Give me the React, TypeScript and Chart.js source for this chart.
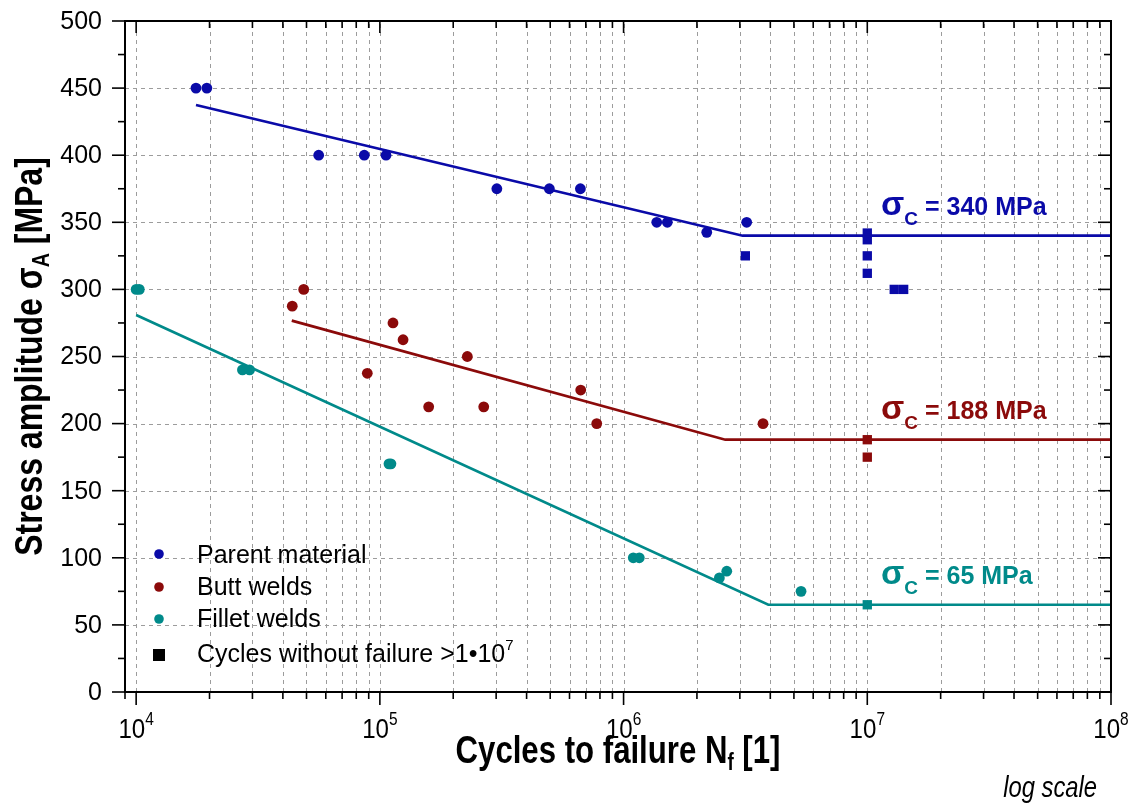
import React, { useEffect, useRef } from 'react';
import { Chart, registerables } from 'chart.js';

Chart.register(...registerables);

// ---------------- data ----------------
const parentN = [17600, 19500, 56100, 86300, 106000, 302000, 496000, 665000, 1368000, 1512000, 2194000, 3200000];
const parentS = [450, 450, 400, 400, 400, 375, 375, 375, 350, 350, 342.5, 350];
const parentRunN = [3160000, 10000000, 10000000, 10000000, 10000000, 12900000, 14100000];
const parentRunS = [325, 342, 337, 325, 312, 300, 300];
const parentFitN = [17600, 3080000, 100000000];
const parentFitS = [437.4, 340, 340];

const buttN = [43700, 48700, 88800, 113200, 124500, 158600, 228500, 266800, 667000, 776000, 3734000];
const buttS = [287.5, 300, 237.5, 275, 262.5, 212.5, 250, 212.5, 225, 200, 200];
const buttRunN = [10000000, 10000000];
const buttRunS = [188, 175];
const buttFitN = [43500, 2615000, 100000000];
const buttFitS = [276.7, 188, 188];

const filletN = [10000, 10300, 27300, 29200, 109000, 111000, 1096000, 1160000, 2472000, 2651000, 5348000];
const filletS = [300, 300, 240, 240, 170, 170, 100, 100, 85, 90, 75];
const filletRunN = [10000000];
const filletRunS = [65];
const filletFitN = [10000, 3925000, 100000000];
const filletFitS = [281, 65, 65];

const enduranceLimits = [340, 188, 65];
const enduranceLabels = ['340', '188', '65'];

const legendLabels = ['Parent material', 'Butt welds', 'Fillet welds', 'Cycles without failure >1\u202210'];

const xDecades = [1e4, 1e5, 1e6, 1e7, 1e8];
const xDecadeExps = ['4', '5', '6', '7', '8'];
const xMultipliers = [2, 3, 4, 5, 6, 7, 8, 9];
const yMajorTicks = [0, 50, 100, 150, 200, 250, 300, 350, 400, 450, 500];
const yMinorTicks = [25, 75, 125, 175, 225, 275, 325, 375, 425, 475];

const X_MIN = 9000;
const X_MAX = 1e8;

// ---------------- styles ----------------
const BLUE = '#0a0aa8';
const RED = '#8b0a0a';
const TEAL = '#008a8a';
const seriesColors = [BLUE, RED, TEAL];
const SANS = "'Liberation Sans', Arial, Helvetica, sans-serif";
const NARROW = 0.82;

type Run = { t: string; size: number; bold?: boolean; italic?: boolean; dy?: number; sx?: number };

function runFont(r: Run) {
  return `${r.italic ? 'italic ' : ''}${r.bold ? 'bold ' : ''}${r.size}px ${SANS}`;
}

function runsWidth(ctx: CanvasRenderingContext2D, runs: Run[]) {
  let w = 0;
  for (const r of runs) {
    ctx.font = runFont(r);
    w += ctx.measureText(r.t).width * (r.sx ?? 1);
  }
  return w;
}

function drawRuns(
  ctx: CanvasRenderingContext2D,
  runs: Run[],
  x: number,
  y: number,
  align: 'left' | 'center' | 'right',
  color: string
) {
  const w = runsWidth(ctx, runs);
  let cx = align === 'left' ? x : align === 'center' ? x - w / 2 : x - w;
  ctx.fillStyle = color;
  ctx.textAlign = 'left';
  ctx.textBaseline = 'alphabetic';
  for (const r of runs) {
    ctx.font = runFont(r);
    const sx = r.sx ?? 1;
    const rw = ctx.measureText(r.t).width * sx;
    ctx.save();
    ctx.translate(cx, y + (r.dy ?? 0));
    ctx.scale(sx, 1);
    ctx.fillText(r.t, 0, 0);
    ctx.restore();
    cx += rw;
  }
}

function xMinorValues() {
  const out: number[] = [X_MIN];
  for (const d of xDecades) {
    if (d >= X_MAX) continue;
    for (const m of xMultipliers) out.push(d * m);
  }
  return out;
}

function pts(xs: number[], ys: number[]) {
  return xs.map((x, i) => ({ x, y: ys[i] }));
}

const framePlugin = {
  id: 'snFrame',
  beforeDatasetsDraw(chart: any) {
    const { ctx, chartArea: a, scales } = chart;
    const xs = scales.x;
    const ys = scales.y;
    ctx.save();
    ctx.strokeStyle = '#9c9c9c';
    ctx.lineWidth = 1;
    ctx.setLineDash([4, 4]);
    const xv = [...xDecades, ...xMinorValues()];
    for (const v of xv) {
      const px = Math.round(xs.getPixelForValue(v)) + 0.5;
      if (px <= a.left + 2 || px >= a.right - 2) continue;
      ctx.beginPath();
      ctx.moveTo(px, a.bottom);
      ctx.lineTo(px, a.top);
      ctx.stroke();
    }
    for (const v of yMajorTicks) {
      const py = Math.round(ys.getPixelForValue(v)) + 0.5;
      if (py <= a.top + 2 || py >= a.bottom - 2) continue;
      ctx.beginPath();
      ctx.moveTo(a.left, py);
      ctx.lineTo(a.right, py);
      ctx.stroke();
    }
    ctx.restore();
  },
  afterDatasetsDraw(chart: any) {
    const { ctx, chartArea: a, scales } = chart;
    const xs = scales.x;
    const ys = scales.y;
    ctx.save();
    ctx.setLineDash([]);
    // frame
    ctx.strokeStyle = '#000';
    ctx.lineWidth = 2;
    ctx.strokeRect(a.left, a.top, a.right - a.left, a.bottom - a.top);

    // ticks
    ctx.lineWidth = 1.6;
    const MAJ = 13;
    const MIN = 7;
    const tick = (x1: number, y1: number, x2: number, y2: number) => {
      ctx.beginPath();
      ctx.moveTo(x1, y1);
      ctx.lineTo(x2, y2);
      ctx.stroke();
    };
    for (const v of yMajorTicks) {
      const py = ys.getPixelForValue(v);
      tick(a.left - MAJ, py, a.left, py);
      tick(a.right, py, a.right - MAJ, py);
    }
    for (const v of yMinorTicks) {
      const py = ys.getPixelForValue(v);
      tick(a.left - MIN, py, a.left, py);
      tick(a.right, py, a.right - MIN, py);
    }
    for (const v of xDecades) {
      const px = xs.getPixelForValue(v);
      tick(px, a.bottom, px, a.bottom + MAJ);
      tick(px, a.top, px, a.top + MAJ - 1);
    }
    for (const v of xMinorValues()) {
      const px = xs.getPixelForValue(v);
      tick(px, a.bottom, px, a.bottom + MIN);
      tick(px, a.top, px, a.top + MIN);
    }

    // y tick labels
    ctx.fillStyle = '#000';
    ctx.font = `25px ${SANS}`;
    ctx.textAlign = 'right';
    ctx.textBaseline = 'middle';
    for (const v of yMajorTicks) {
      ctx.fillText(String(v), a.left - 23, ys.getPixelForValue(v) + 1);
    }

    // x tick labels
    xDecades.forEach((v, i) => {
      const px = xs.getPixelForValue(v);
      drawRuns(
        ctx,
        [
          { t: '10', size: 28, sx: 0.86 },
          { t: xDecadeExps[i], size: 18, sx: 0.86, dy: -13 },
        ],
        px,
        a.bottom + 46,
        'center',
        '#000'
      );
    });

    // x title
    drawRuns(
      ctx,
      [
        { t: 'Cycles to failure N', size: 38, bold: true, sx: NARROW },
        { t: 'f', size: 23, bold: true, sx: NARROW, dy: 7 },
        { t: ' [1]', size: 38, bold: true, sx: NARROW },
      ],
      (a.left + a.right) / 2,
      a.bottom + 71,
      'center',
      '#000'
    );

    // log scale note
    drawRuns(ctx, [{ t: 'log scale', size: 29, italic: true, sx: NARROW }], a.right - 14, a.bottom + 105, 'right', '#000');

    // y title
    ctx.save();
    ctx.translate(42, (a.top + a.bottom) / 2);
    ctx.rotate(-Math.PI / 2);
    drawRuns(
      ctx,
      [
        { t: 'Stress amplitude \u03c3', size: 39, bold: true, sx: NARROW },
        { t: 'A', size: 24, bold: true, sx: NARROW, dy: 7 },
        { t: ' [MPa]', size: 39, bold: true, sx: NARROW },
      ],
      0,
      0,
      'center',
      '#000'
    );
    ctx.restore();

    // endurance limit annotations
    enduranceLimits.forEach((lim, i) => {
      const py = ys.getPixelForValue(lim) - 21;
      drawRuns(
        ctx,
        [
          { t: '\u03c3', size: 34, bold: true },
          { t: 'C', size: 19, bold: true, dy: 10 },
          { t: ' = ' + enduranceLabels[i] + ' MPa', size: 25, bold: true },
        ],
        881,
        py,
        'left',
        seriesColors[i]
      );
    });

    // legend
    const lx = 159;
    const rowsY = [554, 587, 619, 655];
    const baseY = [563, 595, 627, 662];
    for (let i = 0; i < 3; i++) {
      ctx.fillStyle = seriesColors[i];
      ctx.beginPath();
      ctx.arc(lx, rowsY[i], 4.8, 0, Math.PI * 2);
      ctx.fill();
    }
    ctx.fillStyle = '#000';
    ctx.fillRect(lx - 6, rowsY[3] - 6, 12, 12);
    for (let i = 0; i < 3; i++) {
      drawRuns(ctx, [{ t: legendLabels[i], size: 25 }], 197, baseY[i], 'left', '#000');
    }
    drawRuns(
      ctx,
      [
        { t: legendLabels[3], size: 25 },
        { t: '7', size: 15, dy: -12 },
      ],
      197,
      baseY[3],
      'left',
      '#000'
    );
    ctx.restore();
  },
};

export default function App() {
  const ref = useRef<HTMLCanvasElement>(null);

  useEffect(() => {
    if (!ref.current) return;
    const pointDs = (label: string, xsArr: number[], ysArr: number[], color: string, style: string, r: number) => ({
      label,
      data: pts(xsArr, ysArr),
      showLine: false,
      pointStyle: style,
      pointRadius: r,
      pointBackgroundColor: color,
      pointBorderColor: color,
      pointBorderWidth: 0,
      backgroundColor: color,
      borderColor: color,
    });
    const lineDs = (label: string, xsArr: number[], ysArr: number[], color: string) => ({
      label,
      data: pts(xsArr, ysArr),
      showLine: true,
      pointRadius: 0,
      borderColor: color,
      backgroundColor: color,
      borderWidth: 2.7,
      fill: false,
      tension: 0,
    });
    const chart = new Chart(ref.current, {
      type: 'scatter',
      data: {
        datasets: [
          pointDs('Parent material', parentN, parentS, BLUE, 'circle', 5.4),
          pointDs('Parent run-outs', parentRunN, parentRunS, BLUE, 'rect', 6.6),
          pointDs('Butt welds', buttN, buttS, RED, 'circle', 5.4),
          pointDs('Butt run-outs', buttRunN, buttRunS, RED, 'rect', 6.6),
          pointDs('Fillet welds', filletN, filletS, TEAL, 'circle', 5.4),
          pointDs('Fillet run-outs', filletRunN, filletRunS, TEAL, 'rect', 6.6),
          lineDs('Parent fit', parentFitN, parentFitS, BLUE),
          lineDs('Butt fit', buttFitN, buttFitS, RED),
          lineDs('Fillet fit', filletFitN, filletFitS, TEAL),
        ] as any,
      },
      options: {
        responsive: false,
        animation: false,
        devicePixelRatio: 1,
        events: [],
        layout: { padding: { left: 125, top: 21, right: 24, bottom: 113 } },
        scales: {
          x: { type: 'logarithmic', min: X_MIN, max: X_MAX, display: false },
          y: { type: 'linear', min: 0, max: 500, display: false },
        },
        plugins: {
          legend: { display: false },
          tooltip: { enabled: false },
        },
      } as any,
      plugins: [framePlugin as any],
    });
    return () => chart.destroy();
  }, []);

  return (
    <div style={{ position: 'absolute', left: 0, top: 0, width: 1135, height: 805, background: '#fff' }}>
      <canvas ref={ref} width={1135} height={805} style={{ display: 'block', width: 1135, height: 805 }} />
    </div>
  );
}
